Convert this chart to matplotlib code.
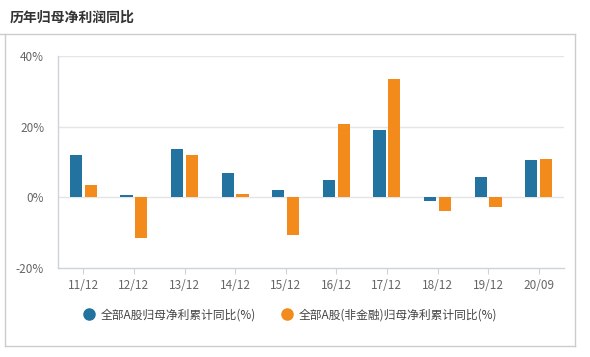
import numpy as np
import matplotlib
matplotlib.use("Agg")
import matplotlib.pyplot as plt
from matplotlib.lines import Line2D

plt.rcParams['font.family'] = ['Noto Sans CJK SC', 'DejaVu Sans']

categories = ["11/12", "12/12", "13/12", "14/12", "15/12",
              "16/12", "17/12", "18/12", "19/12", "20/09"]
all_a = [11.9, 0.8, 13.6, 6.9, 2.0, 4.8, 19.0, -1.1, 5.7, 10.5]
non_fin = [3.4, -11.6, 11.9, 0.9, -10.7, 20.7, 33.4, -4.0, -2.7, 10.8]
y_ticks = [-20, 0, 20, 40]
series_names = ["全部A股归母净利累计同比(%)", "全部A股(非金融)归母净利累计同比(%)"]

BLUE = "#22739f"
ORANGE = "#f28a1c"
AXIS = "#ccd3df"
GRID = "#e5e5e5"

fig = plt.figure(figsize=(5.9, 3.57), dpi=100)
ax = fig.add_axes([58 / 590, 1 - 268 / 357, (564 - 58) / 590, (268 - 56) / 357])

x = np.arange(len(categories))
width = 0.24
ax.bar(x - 0.145, all_a, width, color=BLUE, zorder=3)
ax.bar(x + 0.145, non_fin, width, color=ORANGE, zorder=3)

ax.set_xlim(-0.5, len(categories) - 0.5)
ax.set_ylim(-20, 40)
ax.set_yticks(y_ticks)
ax.set_yticklabels([f"{v}%" for v in y_ticks])
ax.set_xticks(x)
ax.set_xticklabels(categories)

for v in y_ticks[1:]:
    ax.axhline(v, color=GRID, lw=1, zorder=1)

for s in ["top", "right"]:
    ax.spines[s].set_visible(False)
for s in ["left", "bottom"]:
    ax.spines[s].set_color(AXIS)
    ax.spines[s].set_linewidth(1)

ax.tick_params(axis="y", length=0, pad=10, labelsize=8.5, labelcolor="#666666")
ax.tick_params(axis="x", length=4, color=AXIS, pad=4, labelsize=8.5, labelcolor="#666666")

# legend
handles = [
    Line2D([], [], marker="o", ls="", color=BLUE, markersize=8),
    Line2D([], [], marker="o", ls="", color=ORANGE, markersize=8),
]
fig.legend(handles, series_names, loc="center", bbox_to_anchor=(0.493, 1 - 315 / 357),
           ncol=2, frameon=False, fontsize=8.5, handlelength=0.8, handletextpad=0.6,
           columnspacing=2.2, labelcolor="#444444")

# title and frame
fig.text(10 / 590, 1 - 18 / 357, "历年归母净利润同比", fontsize=10, fontweight="bold",
         color="#333333", va="center", ha="left")
frame_kw = dict(color="#cccccc", lw=1, transform=fig.transFigure)
fig.add_artist(Line2D([0, 574.5 / 590], [1 - 34 / 357] * 2, **frame_kw))
fig.add_artist(Line2D([5 / 590] * 2, [1 - 34 / 357, 1 - 345.5 / 357], **frame_kw))
fig.add_artist(Line2D([574.5 / 590] * 2, [1 - 34 / 357, 1 - 345.5 / 357], **frame_kw))
fig.add_artist(Line2D([5 / 590, 574.5 / 590], [1 - 345.5 / 357] * 2, **frame_kw))

fig.savefig("out.png", dpi=100)
